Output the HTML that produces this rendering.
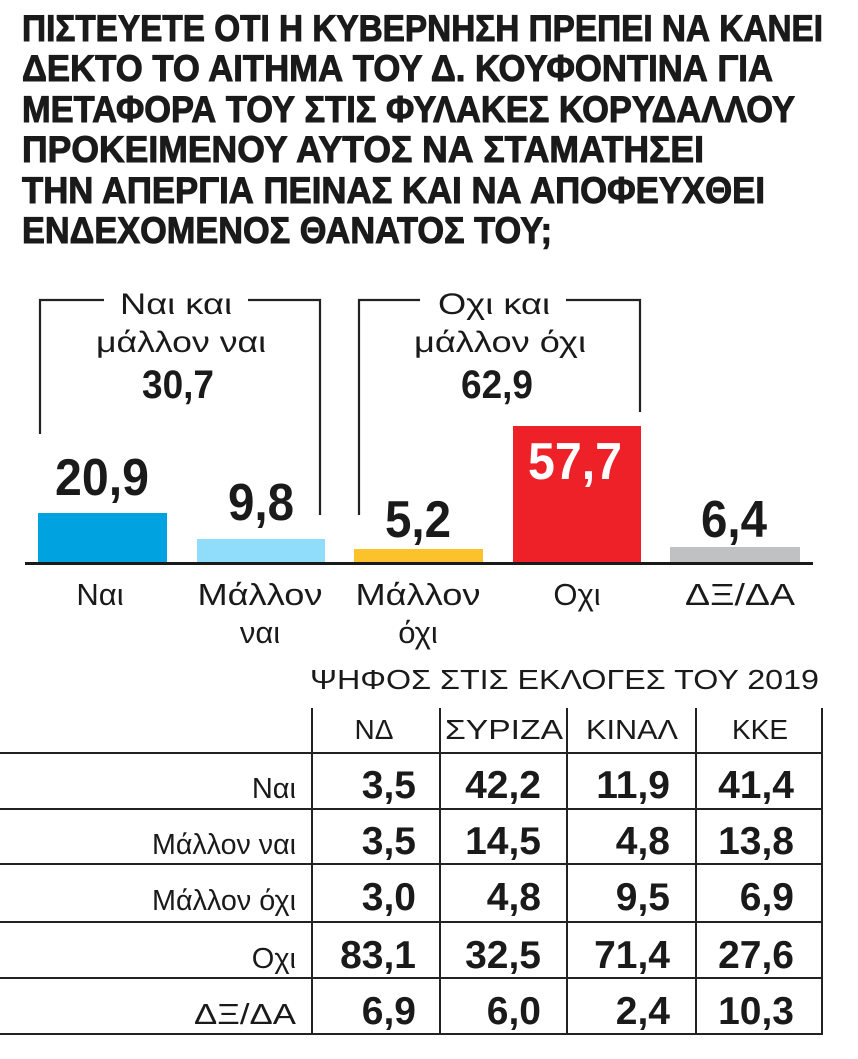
<!DOCTYPE html>
<html><head><meta charset="utf-8"><style>
html,body{margin:0;padding:0;background:#fff;}
svg{display:block;}
text{font-family:"Liberation Sans","DejaVu Sans",sans-serif;fill:#1a1a1a;}
.t{font-weight:bold;font-size:37px;stroke:#1a1a1a;stroke-width:1;}
.b{font-weight:bold;}
</style></head><body>
<svg width="858" height="1059" viewBox="0 0 858 1059" xmlns="http://www.w3.org/2000/svg">
<!-- Title -->
<text class="t" x="22" y="41" textLength="801" lengthAdjust="spacingAndGlyphs">ΠΙΣΤΕΥΕΤΕ ΟΤΙ Η ΚΥΒΕΡΝΗΣΗ ΠΡΕΠΕΙ ΝΑ ΚΑΝΕΙ</text>
<text class="t" x="22" y="81" textLength="751" lengthAdjust="spacingAndGlyphs">ΔΕΚΤΟ ΤΟ ΑΙΤΗΜΑ ΤΟΥ Δ. ΚΟΥΦΟΝΤΙΝΑ ΓΙΑ</text>
<text class="t" x="22" y="122" textLength="773" lengthAdjust="spacingAndGlyphs">ΜΕΤΑΦΟΡΑ ΤΟΥ ΣΤΙΣ ΦΥΛΑΚΕΣ ΚΟΡΥΔΑΛΛΟΥ</text>
<text class="t" x="22" y="162" textLength="682" lengthAdjust="spacingAndGlyphs">ΠΡΟΚΕΙΜΕΝΟΥ ΑΥΤΟΣ  ΝΑ ΣΤΑΜΑΤΗΣΕΙ</text>
<text class="t" x="22" y="203" textLength="743" lengthAdjust="spacingAndGlyphs">ΤΗΝ ΑΠΕΡΓΙΑ ΠΕΙΝΑΣ ΚΑΙ ΝΑ ΑΠΟΦΕΥΧΘΕΙ</text>
<text class="t" x="22" y="243" textLength="530" lengthAdjust="spacingAndGlyphs">ΕΝΔΕΧΟΜΕΝΟΣ ΘΑΝΑΤΟΣ ΤΟΥ;</text>

<!-- Brackets -->
<g stroke="#222" stroke-width="2.2" fill="none">
<polyline points="40,434 40,300 104,300"/>
<polyline points="248,300 320,300 320,515"/>
<polyline points="359,515 359,300 420,300"/>
<polyline points="566,300 640,300 640,412"/>
</g>
<text x="176" y="314" font-size="30" text-anchor="middle" textLength="112" lengthAdjust="spacingAndGlyphs">Ναι και</text>
<text x="181" y="352" font-size="30" text-anchor="middle" textLength="170" lengthAdjust="spacingAndGlyphs">μάλλον ναι</text>
<text class="b" x="178" y="398" font-size="40" text-anchor="middle" textLength="72" lengthAdjust="spacingAndGlyphs">30,7</text>
<text x="494" y="314" font-size="30" text-anchor="middle" textLength="112" lengthAdjust="spacingAndGlyphs">Οχι και</text>
<text x="500" y="352" font-size="30" text-anchor="middle" textLength="172" lengthAdjust="spacingAndGlyphs">μάλλον όχι</text>
<text class="b" x="497" y="398" font-size="40" text-anchor="middle" textLength="72" lengthAdjust="spacingAndGlyphs">62,9</text>

<!-- Bars -->
<rect x="38" y="513" width="129" height="50" fill="#00a3e0"/>
<rect x="197" y="539" width="128" height="24" fill="#8fdcfb"/>
<rect x="354" y="549" width="129" height="14" fill="#fbc22b"/>
<rect x="513" y="426" width="128" height="137" fill="#ee2028"/>
<rect x="670" y="547" width="130" height="16" fill="#c0c1c3"/>
<rect x="25" y="562" width="788" height="3" fill="#1a1a1a"/>

<text class="b" x="102" y="495" font-size="52" text-anchor="middle" textLength="94" lengthAdjust="spacingAndGlyphs">20,9</text>
<text class="b" x="261" y="520" font-size="52" text-anchor="middle" textLength="66" lengthAdjust="spacingAndGlyphs">9,8</text>
<text class="b" x="418" y="537" font-size="52" text-anchor="middle" textLength="66" lengthAdjust="spacingAndGlyphs">5,2</text>
<text class="b" x="575" y="479" font-size="52" text-anchor="middle" textLength="94" lengthAdjust="spacingAndGlyphs" style="fill:#fff">57,7</text>
<text class="b" x="734" y="537" font-size="52" text-anchor="middle" textLength="66" lengthAdjust="spacingAndGlyphs">6,4</text>

<text x="100" y="605" font-size="31" text-anchor="middle">Ναι</text>
<text x="260" y="605" font-size="31" text-anchor="middle" textLength="125" lengthAdjust="spacingAndGlyphs">Μάλλον</text>
<text x="260" y="643" font-size="31" text-anchor="middle">ναι</text>
<text x="418" y="605" font-size="31" text-anchor="middle" textLength="125" lengthAdjust="spacingAndGlyphs">Μάλλον</text>
<text x="418" y="643" font-size="31" text-anchor="middle">όχι</text>
<text x="577" y="605" font-size="31" text-anchor="middle">Οχι</text>
<text x="740" y="605" font-size="31" text-anchor="middle" textLength="110" lengthAdjust="spacingAndGlyphs">ΔΞ/ΔΑ</text>

<!-- Table -->
<text x="310" y="689" font-size="28" textLength="509" lengthAdjust="spacingAndGlyphs">ΨΗΦΟΣ ΣΤΙΣ ΕΚΛΟΓΕΣ ΤΟΥ 2019</text>
<g stroke="#222" stroke-width="2">
<line x1="0" y1="753" x2="823" y2="753"/>
<line x1="0" y1="809" x2="823" y2="809"/>
<line x1="0" y1="864" x2="823" y2="864"/>
<line x1="0" y1="922" x2="823" y2="922"/>
<line x1="0" y1="978" x2="823" y2="978"/>
<line x1="0" y1="1034" x2="823" y2="1034"/>
<line x1="312" y1="708" x2="312" y2="1034"/>
<line x1="440" y1="708" x2="440" y2="1034"/>
<line x1="567" y1="708" x2="567" y2="1034"/>
<line x1="696" y1="708" x2="696" y2="1034"/>
<line x1="822" y1="708" x2="822" y2="1034"/>
</g>
<g font-size="28" text-anchor="middle">
<text x="374" y="739">ΝΔ</text>
<text x="504" y="739" textLength="118" lengthAdjust="spacingAndGlyphs">ΣΥΡΙΖΑ</text>
<text x="632" y="739" textLength="92" lengthAdjust="spacingAndGlyphs">ΚΙΝΑΛ</text>
<text x="760" y="739">ΚΚΕ</text>
</g>
<g font-size="29" text-anchor="end">
<text x="296" y="798">Ναι</text>
<text x="296" y="854" textLength="144" lengthAdjust="spacingAndGlyphs">Μάλλον ναι</text>
<text x="296" y="910" textLength="144" lengthAdjust="spacingAndGlyphs">Μάλλον όχι</text>
<text x="296" y="968">Οχι</text>
<text x="296" y="1024" textLength="102" lengthAdjust="spacingAndGlyphs">ΔΞ/ΔΑ</text>
</g>
<g font-size="39" text-anchor="end" style="font-weight:bold">
<text x="416" y="798">3,5</text><text x="541" y="798">42,2</text><text x="670" y="798">11,9</text><text x="794" y="798">41,4</text>
<text x="416" y="854">3,5</text><text x="541" y="854">14,5</text><text x="670" y="854">4,8</text><text x="794" y="854">13,8</text>
<text x="416" y="910">3,0</text><text x="541" y="910">4,8</text><text x="670" y="910">9,5</text><text x="794" y="910">6,9</text>
<text x="416" y="968">83,1</text><text x="541" y="968">32,5</text><text x="670" y="968">71,4</text><text x="794" y="968">27,6</text>
<text x="416" y="1024">6,9</text><text x="541" y="1024">6,0</text><text x="670" y="1024">2,4</text><text x="794" y="1024">10,3</text>
</g>
</svg>
</body></html>
